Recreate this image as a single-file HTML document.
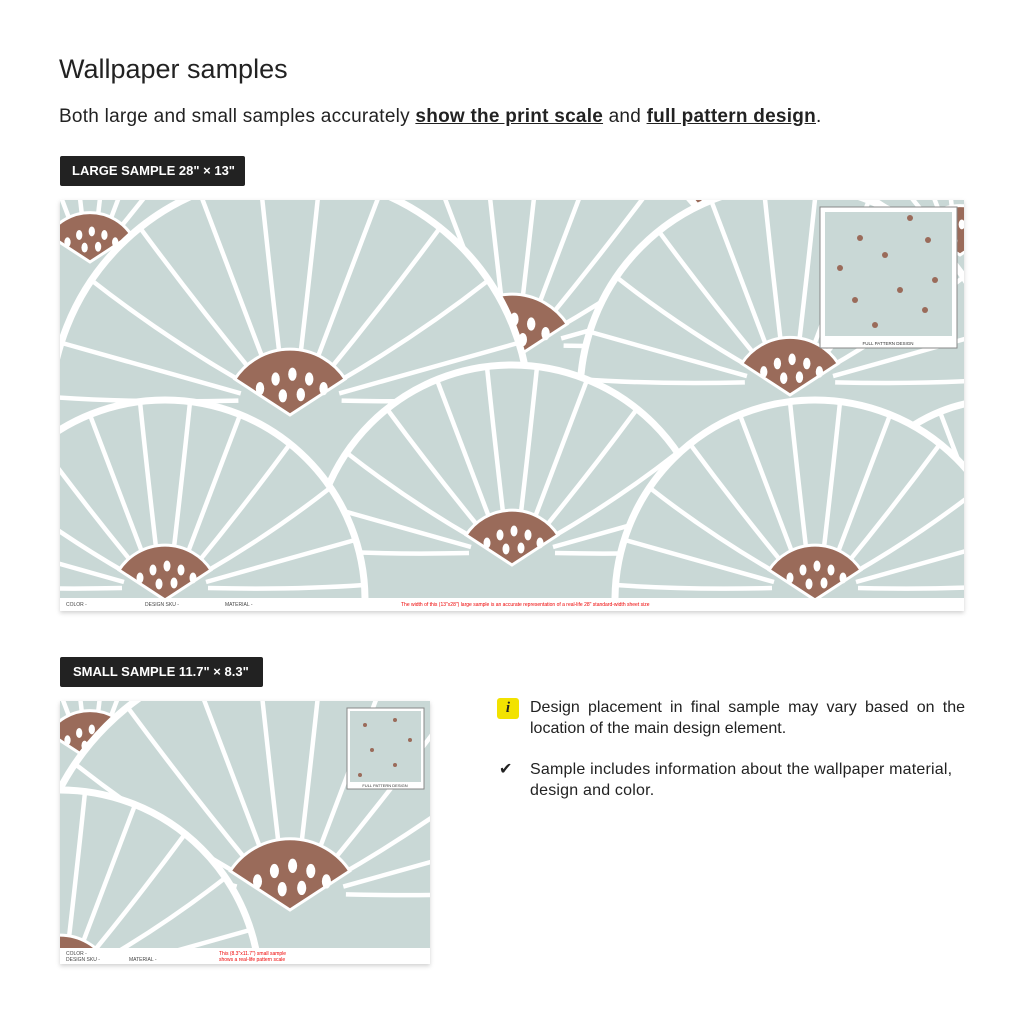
<!DOCTYPE html>
<html><head><meta charset="utf-8"><style>
body{margin:0;width:1024px;height:1024px;background:#fff;font-family:"Liberation Sans",Arial,sans-serif;color:#222;position:relative;overflow:hidden}
.a{position:absolute}
h1{position:absolute;left:59px;top:54px;margin:0;font-size:27px;font-weight:normal;color:#222}
.sub{left:59px;top:106px;font-size:19px;letter-spacing:0.25px}
.sub b{text-decoration:underline;font-weight:bold}
.tag{background:#222;color:#fff;font-weight:bold;font-size:13px;height:30px;line-height:30px;border-radius:2px;white-space:nowrap}
.ft{font-size:5px;color:#444}
.red{color:#e00}
</style></head><body>
<h1>Wallpaper samples</h1>
<div class="a sub">Both large and small samples accurately <b>show the print scale</b> and <b>full pattern design</b>.</div>
<div class="a tag" style="left:60px;top:156px;padding:0 10px 0 12px">LARGE SAMPLE 28" × 13"</div>
<div class="a tag" style="left:60px;top:657px;padding:0 14px 0 13px">SMALL SAMPLE 11.7" × 8.3"</div>

<svg class="a" style="left:0;top:0" width="1024" height="1024">
<defs>
<filter id="sh" x="-5%" y="-5%" width="110%" height="110%"><feDropShadow dx="0" dy="2" stdDeviation="2" flood-opacity="0.18"/></filter>
<g id="fl">
<path d="M-200,0 A200,200 0 0 1 200,0 Z" fill="#c9d8d6"/>
<path d="M-200,0 A200,200 0 0 1 200,0" fill="none" stroke="#fff" stroke-width="7" vector-effect="non-scaling-stroke"/>
<g stroke="#fff" stroke-width="4.5" fill="none">
<path vector-effect="non-scaling-stroke" d="M-43,-12 Q-130,-10 -199,-15"/><path vector-effect="non-scaling-stroke" d="M-41,-18 Q-120,-40 -190,-60"/><path vector-effect="non-scaling-stroke" d="M-37,-26 Q-105,-65 -165,-112"/><path vector-effect="non-scaling-stroke" d="M-30,-34 Q-80,-95 -125,-156"/><path vector-effect="non-scaling-stroke" d="M-20,-40 Q-50,-120 -75,-185"/><path vector-effect="non-scaling-stroke" d="M-8,-44 Q-18,-130 -25,-198"/><path vector-effect="non-scaling-stroke" d="M8,-44 Q18,-130 25,-198"/><path vector-effect="non-scaling-stroke" d="M20,-40 Q50,-120 75,-185"/><path vector-effect="non-scaling-stroke" d="M30,-34 Q80,-95 125,-156"/><path vector-effect="non-scaling-stroke" d="M37,-26 Q105,-65 165,-112"/><path vector-effect="non-scaling-stroke" d="M41,-18 Q120,-40 190,-60"/><path vector-effect="non-scaling-stroke" d="M43,-12 Q130,-10 199,-15"/>
</g>
<path d="M0,0 L-46,-30 A55,55 0 0 1 46,-30 Z" fill="#9a6b5a" stroke="#fff" stroke-width="3" vector-effect="non-scaling-stroke"/>
<g fill="#fff"><ellipse cx="-25" cy="-22" rx="3.5" ry="5.5"/><ellipse cx="-12" cy="-30" rx="3.5" ry="5.5"/><ellipse cx="2" cy="-34" rx="3.5" ry="5.5"/><ellipse cx="16" cy="-30" rx="3.5" ry="5.5"/><ellipse cx="28" cy="-22" rx="3.5" ry="5.5"/><ellipse cx="-6" cy="-16" rx="3.5" ry="5.5"/><ellipse cx="9" cy="-17" rx="3.5" ry="5.5"/></g>
</g>
<clipPath id="c1"><rect x="60" y="200" width="904" height="398"/></clipPath>
<clipPath id="c2"><rect x="60" y="701" width="370" height="247"/></clipPath>
</defs>
<rect x="60" y="200" width="904" height="411" fill="#fff" filter="url(#sh)"/>
<g clip-path="url(#c1)">
<rect x="60" y="200" width="904" height="398" fill="#c9d8d6"/>
<use href="#fl" transform="translate(360,230) scale(1)"/>
<use href="#fl" transform="translate(90,262) scale(0.9)"/>
<use href="#fl" transform="translate(670,250) scale(1.1)"/>
<use href="#fl" transform="translate(960,255) scale(0.9)"/>
<use href="#fl" transform="translate(512,360) scale(1.2)"/>
<use href="#fl" transform="translate(790,395) scale(1.05)"/>
<use href="#fl" transform="translate(290,415) scale(1.2)"/>
<use href="#fl" transform="translate(1000,560) scale(0.8)"/>
<use href="#fl" transform="translate(512,565) scale(1)"/>
<use href="#fl" transform="translate(165,600) scale(1)"/>
<use href="#fl" transform="translate(815,600) scale(1)"/>
</g>
<rect x="820" y="207" width="137" height="141" fill="#fff" stroke="#888" stroke-width="1"/>
<rect x="825" y="212" width="127" height="124" fill="#c9d8d6"/>
<g fill="#9a6b5a"><circle cx="860" cy="238" r="3"/><circle cx="910" cy="218" r="3"/><circle cx="928" cy="240" r="3"/><circle cx="840" cy="268" r="3"/><circle cx="885" cy="255" r="3"/><circle cx="935" cy="280" r="3"/><circle cx="855" cy="300" r="3"/><circle cx="900" cy="290" r="3"/><circle cx="875" cy="325" r="3"/><circle cx="925" cy="310" r="3"/></g>
<text x="888" y="345" font-size="4.5" text-anchor="middle" font-family="Liberation Sans" fill="#333">FULL PATTERN DESIGN</text>

<rect x="60" y="701" width="370" height="263" fill="#fff" filter="url(#sh)"/>
<g clip-path="url(#c2)">
<rect x="60" y="701" width="370" height="247" fill="#c9d8d6"/>
<use href="#fl" transform="translate(350,720) scale(1)"/>
<use href="#fl" transform="translate(90,760) scale(0.9)"/>
<use href="#fl" transform="translate(290,910) scale(1.3)"/>
<use href="#fl" transform="translate(60,990) scale(1)"/>
</g>
<rect x="347" y="708" width="77" height="81" fill="#fff" stroke="#888" stroke-width="1"/>
<rect x="350" y="711" width="71" height="71" fill="#c9d8d6"/>
<g fill="#9a6b5a"><circle cx="365" cy="725" r="2"/><circle cx="395" cy="720" r="2"/><circle cx="410" cy="740" r="2"/><circle cx="372" cy="750" r="2"/><circle cx="395" cy="765" r="2"/><circle cx="360" cy="775" r="2"/></g>
<text x="385" y="787" font-size="4" text-anchor="middle" font-family="Liberation Sans" fill="#333">FULL PATTERN DESIGN</text>
</svg>

<div class="a ft" style="left:66px;top:602px">COLOR -</div>
<div class="a ft" style="left:145px;top:602px">DESIGN SKU -</div>
<div class="a ft" style="left:225px;top:602px">MATERIAL -</div>
<div class="a ft red" style="left:401px;top:602px">The width of this (13"x28") large sample is an accurate representation of a real-life 28" standard-width sheet size</div>
<div class="a ft" style="left:66px;top:951px">COLOR -</div>
<div class="a ft" style="left:66px;top:957px">DESIGN SKU -</div>
<div class="a ft" style="left:129px;top:957px">MATERIAL -</div>
<div class="a ft red" style="left:219px;top:951px;line-height:6px">This (8.3"x11.7") small sample<br>shows a real-life pattern scale</div>

<div class="a" style="left:497px;top:698px;width:22px;height:21px;background:#f2e200;border-radius:3px;text-align:center;font:italic bold 15px 'Liberation Serif',serif;line-height:21px">i</div>
<div class="a" style="left:530px;top:697px;width:435px;font-size:16px;line-height:21px;text-align:justify;text-align-last:left">Design placement in final sample may vary based on the location of the main design element.</div>
<div class="a" style="left:499px;top:759px;font-size:16px">✔</div>
<div class="a" style="left:530px;top:759px;width:440px;font-size:16px;line-height:21px;letter-spacing:0.2px">Sample includes information about the wallpaper material, design and color.</div>
</body></html>
